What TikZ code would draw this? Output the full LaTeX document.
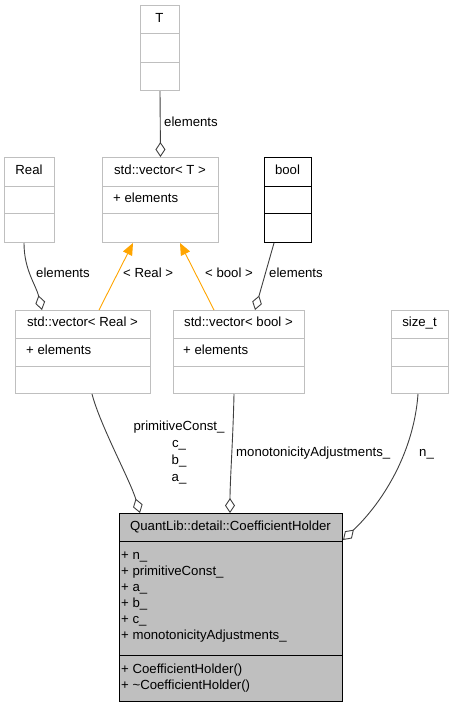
\documentclass[tikz,border=0pt]{standalone}
\usepackage{fontspec}
\setmainfont{Liberation Sans}
\usetikzlibrary{arrows.meta}
\definecolor{boxgray}{HTML}{BFBFBF}
\definecolor{edgegray}{HTML}{404040}
\definecolor{inheritorange}{HTML}{FFA500}
\begin{document}
\begin{tikzpicture}[x=1pt,y=-1pt,
  cls/.style={draw=boxgray,line width=1pt,inner sep=0pt,anchor=north west,fill=white},
  divider/.style={draw=boxgray,line width=1pt},
  txt/.style={inner sep=0pt,font=\fontsize{13.2}{16}\selectfont,text height=9.5pt,text depth=2.5pt},
  member/.style={txt,anchor=west},
  lbl/.style={txt,anchor=west},
  agg/.style={draw=edgegray,line width=0.9pt,-{Diamond[open,fill=white,length=15pt,width=10pt,line width=0.9pt]}},
  gen/.style={draw=inheritorange,line width=0.9pt,-{Triangle[length=12pt,width=10pt]}}]
\useasboundingbox (0,0) rectangle (453,707);
\fill[white] (0,0) rectangle (453,707);

% template parameter T
\node[cls,minimum width=39pt,minimum height=85pt] (T) at (140,5) {};
\draw[divider] ([yshift=-28pt]T.north west) -- ([yshift=-28pt]T.north east);
\draw[divider] ([yshift=-57pt]T.north west) -- ([yshift=-57pt]T.north east);
\node[txt] at (159.5,19) {T};

% std::vector< T >
\node[cls,minimum width=116pt,minimum height=85pt] (vT) at (102,157) {};
\draw[divider] ([yshift=-29pt]vT.north west) -- ([yshift=-29pt]vT.north east);
\draw[divider] ([yshift=-56pt]vT.north west) -- ([yshift=-56pt]vT.north east);
\node[txt] at (160,171) {std::vector< T >};
\node[member] at (113,199) {+ elements};

% Real
\node[cls,minimum width=50pt,minimum height=85pt] (Real) at (4,157) {};
\draw[divider] ([yshift=-29pt]Real.north west) -- ([yshift=-29pt]Real.north east);
\draw[divider] ([yshift=-56pt]Real.north west) -- ([yshift=-56pt]Real.north east);
\node[txt] at (29,171) {Real};

% bool
\node[cls,draw=black,minimum width=47pt,minimum height=85pt] (bool) at (264,157) {};
\draw[divider,draw=black] ([yshift=-29pt]bool.north west) -- ([yshift=-29pt]bool.north east);
\draw[divider,draw=black] ([yshift=-56pt]bool.north west) -- ([yshift=-56pt]bool.north east);
\node[txt] at (287.5,171) {bool};

% std::vector< Real >
\node[cls,minimum width=135pt,minimum height=83pt] (vR) at (15,310) {};
\draw[divider] ([yshift=-28pt]vR.north west) -- ([yshift=-28pt]vR.north east);
\draw[divider] ([yshift=-56pt]vR.north west) -- ([yshift=-56pt]vR.north east);
\node[txt] at (82.5,323) {std::vector< Real >};
\node[member] at (26,351) {+ elements};

% std::vector< bool >
\node[cls,minimum width=131pt,minimum height=83pt] (vB) at (173,310) {};
\draw[divider] ([yshift=-28pt]vB.north west) -- ([yshift=-28pt]vB.north east);
\draw[divider] ([yshift=-56pt]vB.north west) -- ([yshift=-56pt]vB.north east);
\node[txt] at (238.5,323) {std::vector< bool >};
\node[member] at (183,351) {+ elements};

% size_t
\node[cls,minimum width=57pt,minimum height=83pt] (sz) at (391,310) {};
\draw[divider] ([yshift=-28pt]sz.north west) -- ([yshift=-28pt]sz.north east);
\draw[divider] ([yshift=-56pt]sz.north west) -- ([yshift=-56pt]sz.north east);
\node[txt] at (419.5,323) {size\_t};

% QuantLib::detail::CoefficientHolder
\node[cls,draw=black,fill=boxgray,minimum width=223pt,minimum height=188pt] (main) at (119,513) {};
\draw[divider,draw=black] ([yshift=-28pt]main.north west) -- ([yshift=-28pt]main.north east);
\draw[divider,draw=black] ([yshift=-142pt]main.north west) -- ([yshift=-142pt]main.north east);
\node[txt] at (230.5,527) {QuantLib::detail::CoefficientHolder};
\node[member] at (121,556) {+ n\_};
\node[member] at (121,572) {+ primitiveConst\_};
\node[member] at (121,588) {+ a\_};
\node[member] at (121,604) {+ b\_};
\node[member] at (121,620) {+ c\_};
\node[member] at (121,636) {+ monotonicityAdjustments\_};
\node[member] at (121,670) {+ CoefficientHolder()};
\node[member] at (121,686) {+ \textasciitilde CoefficientHolder()};

% connectors
\draw[agg] (T.south) -- (vT.north);
\node[lbl] at (164,123) {elements};

\draw[agg] ([xshift=20pt]Real.south west) .. controls (24,270) and (36,285) .. ([xshift=27pt]vR.north west);
\node[lbl] at (36,274) {elements};

\draw[gen] ([xshift=84pt]vR.north west) -- ([xshift=31pt]vT.south west);
\node[lbl] at (123,274) {< Real >};

\draw[gen] ([xshift=41pt]vB.north west) -- ([xshift=78pt]vT.south west);
\node[lbl] at (205,274) {< bool >};

\draw[agg] ([xshift=10pt]bool.south west) -- ([xshift=82pt]vB.north west);
\node[lbl] at (269,274) {elements};

\draw[agg] ([xshift=77pt]vR.south west) .. controls (100,425) and (130,480) .. ([xshift=21pt]main.north west);
\node[inner sep=0pt,font=\fontsize{13.2}{17}\selectfont,align=center] at (179,453) {primitiveConst\_\\c\_\\b\_\\a\_};

\draw[agg] ([xshift=61pt]vB.south west) .. controls (233,440) and (230,480) .. ([xshift=111pt]main.north west);
\node[lbl] at (236,453) {monotonicityAdjustments\_};

\draw[agg] ([xshift=27pt]sz.south west) .. controls (414,450) and (385,500) .. ([yshift=-27pt]main.north east);
\node[lbl] at (419,453) {n\_};
\end{tikzpicture}
\end{document}
